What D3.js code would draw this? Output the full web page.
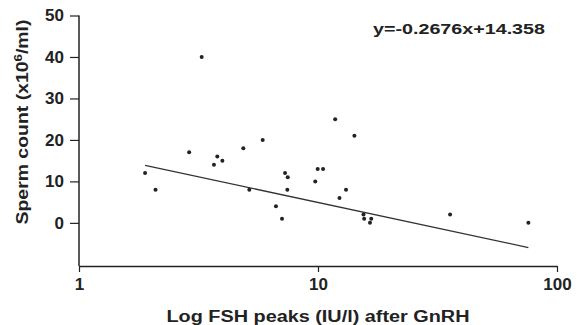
<!DOCTYPE html>
<html><head><meta charset="utf-8">
<script src="https://cdn.jsdelivr.net/npm/d3@7"></script>
<style>body{margin:0;background:#fff}svg{display:block}text{font-family:"Liberation Sans",Arial,sans-serif;font-weight:bold;fill:#222}</style>
</head><body><svg id="c" width="577" height="325"></svg>
<script>
const fshPeaks = [1.89,2.09,2.89,3.79,3.98,3.67,4.87,5.87,5.16,7.28,7.47,7.44,6.67,7.07,11.8,14.2,9.97,10.5,9.74,13.1,12.3,15.5,15.6,16.7,16.5,35.7,75.9,3.26];
const spermCount = [12,8,17,16,15,14,18,20,8,12,11,8,4,1,25,21,13,13,10,8,6,2,1,1,0,2,0,40];
const yTicks = [0,10,20,30,40,50];
const xTicks = [1,10,100];
const slope = -0.2676, intercept = 14.358;
const equationLabel = "y=-0.2676x+14.358";

const svg = d3.select("#c");
const x = d3.scaleLog().domain([1,100]).range([79,557]);
const y = d3.scaleLinear().domain([-10.4,50]).range([266,15.5]);
const ink = "#222";

// y axis
const ya = svg.append("g").attr("transform","translate(79,0)")
  .call(d3.axisLeft(y).tickValues(yTicks).tickSize(9).tickPadding(6).tickSizeOuter(0));
ya.select(".domain").attr("stroke",ink).attr("stroke-width",1.5).attr("d","M0,"+y(50)+"V"+y(-10.4));
ya.selectAll(".tick line").attr("stroke",ink).attr("stroke-width",1.2);
ya.selectAll(".tick text").attr("font-size",17).attr("font-family","Liberation Sans, Arial").attr("font-weight","bold").attr("fill",ink);

// x axis
const xa = svg.append("g").attr("transform","translate(0,266)")
  .call(d3.axisBottom(x).tickValues(xTicks).tickFormat(d3.format("d")).tickSize(6).tickPadding(6).tickSizeOuter(0));
xa.select(".domain").attr("stroke",ink).attr("stroke-width",1.5);
xa.selectAll(".tick line").attr("stroke",ink).attr("stroke-width",1.2);
xa.selectAll(".tick text").attr("font-size",17).attr("font-family","Liberation Sans, Arial").attr("font-weight","bold").attr("fill",ink);

// regression line (drawn straight between fitted endpoints)
const xmin = d3.min(fshPeaks), xmax = d3.max(fshPeaks);
svg.append("line")
  .attr("x1",x(xmin)).attr("y1",y(slope*xmin+intercept))
  .attr("x2",x(xmax)).attr("y2",y(slope*xmax+intercept))
  .attr("stroke","#333").attr("stroke-width",1.3);

// points
svg.selectAll("circle.pt").data(fshPeaks).enter().append("circle")
  .attr("class","pt")
  .attr("cx",(d)=>x(d)).attr("cy",(d,i)=>y(spermCount[i]))
  .attr("r",2).attr("fill",ink);

// equation
svg.append("text").attr("x",373).attr("y",34).attr("font-size",14)
  .attr("textLength",172).attr("lengthAdjust","spacingAndGlyphs").text(equationLabel);

// axis titles
svg.append("text").attr("x",318).attr("y",322).attr("text-anchor","middle").attr("font-size",16)
  .attr("textLength",303).attr("lengthAdjust","spacingAndGlyphs").text("Log FSH peaks (IU/l) after GnRH");

const yl = svg.append("text").attr("transform","translate(28,122) rotate(-90)").attr("text-anchor","middle")
  .attr("font-size",16).attr("textLength",205).attr("lengthAdjust","spacingAndGlyphs");
yl.append("tspan").text("Sperm count (x10");
yl.append("tspan").attr("dy",-6).attr("font-size",11).text("6");
yl.append("tspan").attr("dy",6).text("/ml)");
</script></body></html>
